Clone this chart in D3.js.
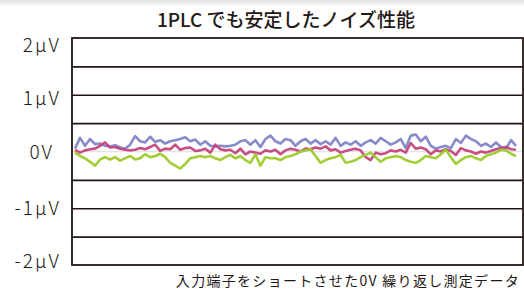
<!DOCTYPE html>
<meta charset="utf-8">
<style>
html,
body {
    margin: 0;
    padding: 0;
    overflow: hidden;
    background: #fff;
}

svg {
    display: block;
}

.title {
    font-family: "Noto Sans CJK JP", "Noto Sans", sans-serif;
    font-weight: 500;
    font-size: 19px;
    fill: #231815;
}

.ylab {
    font-family: "Noto Sans CJK JP", "Noto Sans", sans-serif;
    font-weight: 300;
    font-size: 19px;
    fill: #231815;
}

.note {
    font-family: "Noto Sans CJK JP", sans-serif;
    font-weight: 400;
    font-size: 14px;
    fill: #231815;
}

.grid line {
    stroke: #231815;
    stroke-width: 1.6px;
}

.grid path {
    display: none;
}
</style>
<svg width="524" height="291"></svg>
<script src="https://d3js.org/d3.v7.min.js"></script>
<script>
var title = "1PLC でも安定したノイズ性能";
var note = "入力端子をショートさせた0V 繰り返し測定データ";

var yLabels = [
    { v: 2, text: "2μV" },
    { v: 1, text: "1μV" },
    { v: 0, text: "0V" },
    { v: -1, text: "-1μV" },
    { v: -2, text: "-2μV" }
];
var gridValues = [-1.5, -1, -0.5, 0.5, 1, 1.5];

// readings in μV, one per sample
var blue = [0.05,0.24,0.10,0.22,0.13,0.14,0.10,0.09,0.11,0.07,0.05,0.12,0.27,0.18,0.16,0.26,0.17,0.20,
    0.14,0.18,0.20,0.22,0.25,0.18,0.21,0.12,0.18,0.10,0.09,0.10,0.09,0.10,0.12,0.18,0.20,0.12,
    0.20,0.08,0.22,0.28,0.18,0.14,0.22,0.20,0.10,0.18,0.22,0.14,0.20,0.13,0.18,0.12,0.24,0.10,
    0.16,0.12,0.18,0.10,0.16,0.20,0.14,0.24,0.18,0.12,0.16,0.22,0.06,0.28,0.30,0.18,0.26,0.10,
    0.05,0.08,0.10,0.06,0.22,0.15,0.28,0.22,0.18,0.10,0.14,0.08,0.16,0.08,0.05,0.20,0.10];

var magenta = [0.03,-0.02,0.02,0.04,0.05,0.10,0.16,0.07,0.08,0.05,0.03,0.02,0.03,0.06,0.04,0.08,0.12,0.01,
    0.05,0.04,0.12,0.03,0.06,0.07,0.01,0.02,0.05,-0.02,0.12,0.04,0.02,0.03,-0.03,0.05,-0.05,0.00,
    -0.02,-0.04,0.02,0.00,0.03,-0.05,0.02,0.05,0.03,0.00,0.05,0.04,0.07,0.05,0.09,0.02,0.04,-0.02,
    0.01,0.03,0.05,0.02,-0.10,-0.15,-0.02,-0.05,-0.03,0.02,0.00,0.03,-0.02,0.15,0.05,0.07,0.04,-0.05,
    0.02,0.00,0.04,0.01,-0.06,0.06,0.02,0.00,-0.04,0.00,-0.02,0.01,0.04,0.06,0.08,0.04,0.03];

var green = [-0.02,-0.08,-0.12,-0.18,-0.25,-0.14,-0.10,-0.14,-0.10,-0.16,-0.12,-0.08,-0.14,-0.12,-0.05,-0.10,-0.08,-0.04,
    -0.10,-0.20,-0.25,-0.30,-0.22,-0.12,-0.10,-0.08,-0.10,-0.08,-0.12,-0.15,-0.10,-0.06,-0.12,-0.08,-0.15,-0.20,
    -0.05,-0.25,-0.10,-0.12,-0.12,-0.15,-0.10,-0.08,-0.05,0.00,0.02,0.04,-0.08,-0.20,-0.15,-0.12,-0.10,-0.06,
    -0.20,-0.18,-0.15,-0.10,-0.06,-0.02,-0.10,-0.18,-0.12,-0.10,-0.08,-0.10,-0.15,-0.18,-0.20,-0.15,-0.08,-0.10,
    -0.12,-0.05,0.03,-0.10,-0.22,-0.15,-0.10,-0.08,-0.12,-0.15,-0.08,-0.05,-0.02,0.03,0.02,-0.04,-0.08];

var series = [
    { values: blue, color: "#8185c6" },
    { values: magenta, color: "#c4467f" },
    { values: green, color: "#9dcb2a" }
];

var svg = d3.select("svg");
var plotLeft = 72, plotRight = 523, plotTop = 38, plotBottom = 265;

var x = d3.scaleLinear().domain([0, blue.length - 1]).range([75, 516]);
var y = d3.scaleLinear().domain([-2, 2]).range([plotBottom, plotTop]);

// faint band at the top of the page
var grad = svg.append("defs").append("linearGradient")
    .attr("id", "topfade").attr("x1", 0).attr("x2", 0).attr("y1", 0).attr("y2", 1);
grad.append("stop").attr("offset", "0%").attr("stop-color", "#e2e2e2");
grad.append("stop").attr("offset", "100%").attr("stop-color", "#fff");
svg.append("rect").attr("x", 0).attr("y", 0).attr("width", 524).attr("height", 7)
    .attr("fill", "url(#topfade)");

svg.append("text").attr("class", "title")
    .attr("x", 286).attr("y", 27)
    .attr("text-anchor", "middle")
    .text(title);

// zero line, light
svg.append("line")
    .attr("x1", plotLeft).attr("x2", plotRight)
    .attr("y1", y(0)).attr("y2", y(0))
    .attr("stroke", "#e4e4e4").attr("stroke-width", 1.5);

// horizontal rules
svg.append("g")
    .attr("class", "grid")
    .attr("transform", "translate(" + plotLeft + ",0)")
    .call(d3.axisLeft(y).tickValues(gridValues).tickSize(-(plotRight - plotLeft)).tickFormat(""));

var line = d3.line()
    .x(function(d, i) { return x(i); })
    .y(function(d) { return y(d); });

svg.append("g").selectAll("path")
    .data(series)
    .enter().append("path")
    .attr("d", function(d) { return line(d.values); })
    .attr("fill", "none")
    .attr("stroke", function(d) { return d.color; })
    .attr("stroke-width", 2.6)
    .attr("stroke-linejoin", "round")
    .attr("opacity", 0.95);

// frame
svg.append("rect")
    .attr("x", plotLeft).attr("y", plotTop)
    .attr("width", plotRight - plotLeft).attr("height", plotBottom - plotTop)
    .attr("fill", "none")
    .attr("stroke", "#231815")
    .attr("stroke-width", 1.8);

svg.append("g").selectAll("text")
    .data(yLabels)
    .enter().append("text")
    .attr("class", "ylab")
    .attr("x", function(d) { return d.v === 0 ? 54 : 61; })
    .attr("y", function(d) {
        var p = y(d.v);
        if (d.v === 2) p = 45;
        if (d.v === -2) p = 261;
        if (d.v === 1) p = 98;
        return p + 7;
    })
    .attr("text-anchor", "end")
    .attr("letter-spacing", "2")
    .text(function(d) { return d.text; });

svg.append("text").attr("class", "note")
    .attr("x", 520).attr("y", 286)
    .attr("text-anchor", "end")
    .attr("letter-spacing", "1.3")
    .text(note);
</script>
